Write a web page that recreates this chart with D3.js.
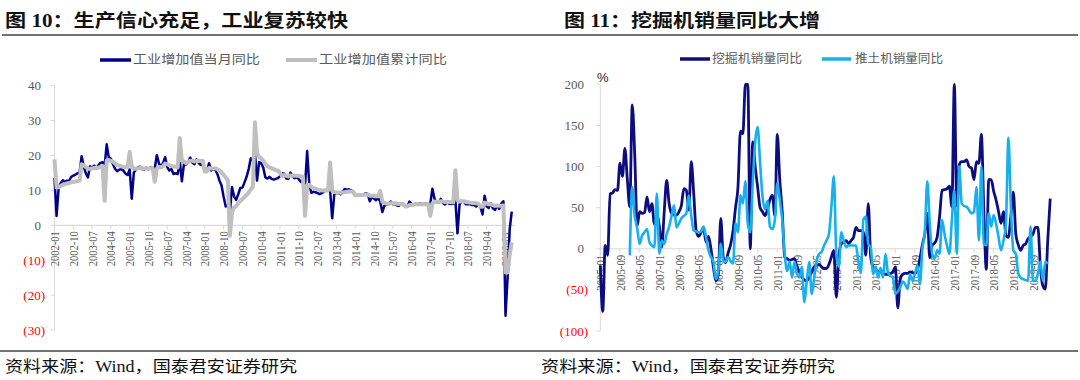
<!DOCTYPE html>
<html><head><meta charset="utf-8">
<script src="https://cdn.jsdelivr.net/npm/d3@7"></script>
<style>body{margin:0;background:#fff}svg{display:block}</style>
</head><body>
<svg id="c" width="1080" height="380"></svg>
<script>
// ---------- Left chart data: 工业增加值 (2002-01 .. 2020-04) ----------
const iavStart = [2002, 1];
const iavMonthly = [
 13.6,2.7,10.9,12.1,12.9,12.4,12.8,12.7,13.9,14.2,14.5,14.9,
 15.0,19.8,16.9,14.9,13.7,16.9,16.5,17.1,16.3,17.2,17.9,18.1,
 17.0,23.2,19.4,19.1,17.5,16.2,15.5,15.9,16.1,15.7,14.8,14.4,
 16.0,7.6,15.1,16.0,16.6,16.8,16.1,16.0,16.5,16.1,16.6,16.5,
 16.2,20.1,17.8,16.6,17.9,19.5,16.7,15.7,16.1,14.7,14.9,14.7,
 18.5,12.6,17.6,17.4,18.1,19.4,18.0,17.5,18.9,17.9,17.3,17.4,
 15.4,15.4,17.8,15.7,16.0,16.0,14.7,12.8,11.4,8.2,5.4,5.7,
 3.8,11.0,8.3,7.3,8.9,10.7,10.8,12.3,13.9,16.1,19.2,18.5,
 20.7,12.8,18.1,17.8,16.5,13.7,13.4,13.9,13.3,13.1,13.3,13.5,
 14.1,14.9,14.8,13.4,13.3,15.1,14.0,13.5,13.8,13.2,12.4,12.8,
 11.4,21.3,11.9,9.3,9.6,9.5,9.2,8.9,9.2,9.6,10.1,10.3,
 9.9,2.0,8.9,9.3,9.2,8.9,9.7,10.4,10.2,10.3,10.0,9.7,
 8.6,8.6,8.8,8.7,8.8,9.2,9.0,6.9,8.0,7.7,7.2,7.9,
 6.8,3.8,5.6,5.9,6.1,6.8,6.0,6.1,5.7,5.6,6.2,5.9,
 5.4,5.4,6.8,6.0,6.0,6.2,6.0,6.3,6.1,6.1,6.2,6.0,
 6.3,10.5,7.6,6.5,6.5,7.6,6.4,6.0,6.6,6.2,6.1,6.2,
 7.2,-2.3,6.0,7.0,6.8,6.0,6.0,6.1,5.8,5.9,5.4,5.7,
 5.3,3.1,8.5,5.4,5.0,6.3,4.8,4.4,5.8,4.7,6.2,6.9,
 -25.9,-15.0,-1.1,3.9
];
const iavCumulative = [
 18.9,10.9,10.9,11.3,11.6,11.8,12.0,12.1,12.3,12.4,12.6,12.6,
 12.8,17.5,17.2,16.7,16.2,16.2,16.3,16.4,16.5,16.5,16.8,17.0,
 7.0,18.5,18.7,18.5,18.2,17.7,17.3,17.1,16.9,16.7,16.6,16.7,
 21.0,16.9,16.2,16.2,16.3,16.4,16.3,16.3,16.3,16.3,16.3,16.4,
 12.5,16.2,16.7,16.6,16.9,17.7,17.5,17.2,17.0,16.9,16.8,16.6,
 25.0,18.5,18.3,17.8,18.1,18.5,18.5,18.3,18.4,18.5,18.4,18.5,
 15.4,15.4,16.4,16.3,16.3,16.3,16.1,15.7,15.2,14.4,13.7,12.9,
 -3.0,3.8,5.1,5.5,6.3,7.0,7.5,8.1,8.7,9.4,10.3,11.0,
 29.5,20.7,19.6,19.1,18.5,17.6,17.0,16.6,16.3,16.1,15.8,15.7,
 15.0,14.1,14.4,14.2,14.0,14.3,14.2,14.2,14.2,14.1,14.0,13.9,
 2.7,11.4,11.6,11.0,10.7,10.5,10.3,10.1,10.0,10.0,10.0,10.0,
 18.0,9.9,9.5,9.4,9.4,9.3,9.4,9.5,9.6,9.7,9.7,9.7,
 8.6,8.6,8.7,8.7,8.7,8.8,8.8,8.5,8.5,8.4,8.3,8.3,
 9.8,6.8,6.4,6.2,6.2,6.3,6.3,6.3,6.2,6.1,6.1,6.1,
 5.4,5.4,5.8,5.8,5.9,6.0,6.0,6.0,6.0,6.0,6.0,6.0,
 2.7,6.3,6.8,6.7,6.7,6.9,6.8,6.7,6.7,6.7,6.6,6.6,
 15.8,7.2,6.8,6.9,6.9,6.7,6.6,6.5,6.4,6.4,6.3,6.2,
 5.3,5.3,6.5,6.2,6.0,6.0,5.8,5.6,5.6,5.6,5.6,5.7,
 -13.5,-13.5,-8.4,-4.9
];
const iavTicks = ["2002-01","2002-10","2003-07","2004-04","2005-01","2005-10","2006-07","2007-04",
 "2008-01","2008-10","2009-07","2010-04","2011-01","2011-10","2012-07","2013-04","2014-01","2014-10",
 "2015-07","2016-04","2017-01","2017-10","2018-07","2019-04","2020-01"];
const iavYTicks = [40,30,20,10,0,-10,-20,-30];

// ---------- Right chart data: 挖掘机 / 推土机 销量同比 (2005-01 .. 2020-04) ----------
const excStart = [2005, 1];
const excavatorYoY = [
 -20,-76,4,-8,67,68,72,71,104,88,122,84,
 51,175,115,28,45,43,44,63,45,55,30,41,
 28,2,45,83,55,43,41,41,45,53,73,71,
 47,106,67,22,15,20,26,8,15,0,-22,-39,
 -31,37,-10,-17,-5,5,22,50,75,143,140,200,
 200,0,130,100,75,50,45,40,48,60,65,40,
 139,84,45,-10,-12,-14,-13,-12,-22,-28,-34,-38,
 -39,-35,-28,-22,-20,-19,-22,-24,-24,-19,-10,-2,
 -59,-10,6,8,10,6,10,14,26,22,22,20,
 -8,55,-10,-23,-26,-28,-29,-30,-31,-31,-30,-28,
 -22,-72,-37,-31,-30,-30,-28,-29,-30,-25,-12,5,
 18,43,-11,4,7,14,39,71,72,73,76,51,
 200,52,102,106,106,108,100,98,84,106,104,139,
 47,-25,84,84,70,59,45,31,45,16,14,40,
 69,18,5,-2,4,6,12,15,18,26,26,-22,
 -45,-49,10,61
];
const bulldozerYoY = [
 null,null,null,null,null,null,null,null,null,null,null,null,
 -8,75,40,25,6,16,20,24,8,4,2,67,
 -6,10,6,18,27,40,53,26,31,37,40,43,
 65,40,22,21,20,21,27,14,-2,-10,-16,-37,
 -27,6,-14,-16,-10,-15,-18,31,20,65,55,82,
 30,20,80,130,148,104,63,48,58,27,24,35,
 80,60,35,-6,-27,-16,-35,-16,-30,-35,-22,-65,
 -39,-16,-55,-35,-15,-6,-4,4,10,18,51,88,
 -6,-22,20,10,2,4,4,4,4,-16,-29,35,
 39,6,2,-31,-22,-35,-23,-35,-6,-29,-33,-35,
 -55,-52,-47,-40,-43,-49,-31,-39,-30,-20,-43,0,
 20,82,31,-6,-12,-2,-6,35,18,4,-6,35,
 71,-6,100,55,52,51,47,43,45,75,10,100,
 6,4,43,27,41,30,14,-2,10,31,135,51,
 -2,-6,-30,-35,-37,-38,-39,27,-39,-39,-30,-16,
 -39,-16,-18,null
];
const excTicks = ["2005-01","2005-09","2006-05","2007-01","2007-09","2008-05","2009-01","2009-09",
 "2010-05","2011-01","2011-09","2012-05","2013-01","2013-09","2014-05","2015-01","2015-09",
 "2016-05","2017-01","2017-09","2018-05","2019-01","2019-09"];
const excYTicks = [200,150,100,50,0,-50,-100];

// ---------- helpers ----------
function monthLabels(start, n){
  const out=[]; let y=start[0], m=start[1];
  for(let k=0;k<n;k++){ out.push(y+"-"+String(m).padStart(2,"0")); m++; if(m>12){m=1;y++;} }
  return out;
}
const fmtY = v => v<0 ? "("+Math.abs(v)+")" : String(v);
const SERIF = "'Liberation Serif','Times New Roman',serif";
const CJK = "'Liberation Serif','Noto Sans CJK SC',serif";
const svg = d3.select("#c");

// ---------- headers & footers ----------
svg.append("text").attr("x",5).attr("y",27).attr("font-family",CJK).attr("font-weight","bold")
  .attr("font-size",18).attr("fill","#111").attr("textLength",343).attr("lengthAdjust","spacingAndGlyphs")
  .text("图 10：生产信心充足，工业复苏较快");
svg.append("text").attr("x",564).attr("y",27).attr("font-family",CJK).attr("font-weight","bold")
  .attr("font-size",18).attr("fill","#111").attr("textLength",256).attr("lengthAdjust","spacingAndGlyphs")
  .text("图 11：挖掘机销量同比大增");
svg.append("line").attr("x1",2).attr("x2",1078).attr("y1",35).attr("y2",35).attr("stroke","#444").attr("stroke-width",1.5);
svg.append("line").attr("x1",0).attr("x2",1078).attr("y1",351).attr("y2",351).attr("stroke","#444").attr("stroke-width",1.5);
[[5,292],[541,294]].forEach(([x,w])=>{
  svg.append("text").attr("x",x).attr("y",372).attr("font-family",CJK).attr("font-size",16)
    .attr("fill","#111").attr("textLength",w).attr("lengthAdjust","spacingAndGlyphs")
    .text("资料来源：Wind，国泰君安证券研究");
});

// ---------- generic chart ----------
function drawChart(o){
  const g = svg.append("g");
  const cats = monthLabels(o.start, o.series[0].values.length);
  const x = d3.scaleLinear().domain([0, cats.indexOf(o.xTicks[o.xTicks.length-1])]).range(o.xRange);
  const y = d3.scaleLinear().domain(o.yDomain).range(o.yRange);
  const x0 = o.xRange[0], xEnd = x(cats.length-1)+3;
  g.append("line").attr("x1",x0).attr("x2",x0).attr("y1",y(o.yDomain[1])).attr("y2",y(o.yDomain[0]))
    .attr("stroke","#D9D9D9");
  o.yTicks.forEach(v=>{
    g.append("line").attr("x1",x0-4).attr("x2",x0).attr("y1",y(v)).attr("y2",y(v)).attr("stroke","#D9D9D9");
    g.append("text").attr("x", v<0 ? o.yLabelX+4 : o.yLabelX).attr("y",y(v)).attr("dy","0.35em")
      .attr("text-anchor","end").attr("font-family",SERIF).attr("font-size",13)
      .attr("fill", v<0 ? "#FF0000" : "#595959").text(fmtY(v));
  });
  g.append("line").attr("x1",x0).attr("x2",xEnd).attr("y1",y(0)).attr("y2",y(0)).attr("stroke","#D9D9D9").attr("stroke-width",1.2);
  o.xTicks.forEach(t=>{
    const xx = x(cats.indexOf(t));
    g.append("line").attr("x1",xx).attr("x2",xx).attr("y1",y(0)).attr("y2",y(0)+4).attr("stroke","#D9D9D9");
    g.append("text").attr("transform",`translate(${xx},${y(0)+6}) rotate(-90)`).attr("dy","0.35em")
      .attr("text-anchor","end").attr("font-family",SERIF).attr("font-size",13).attr("fill","#595959")
      .attr("textLength",o.tickLen).attr("lengthAdjust","spacingAndGlyphs").text(t);
  });
  o.series.forEach(s=>{
    const line = d3.line().defined(d=>d!=null).x((d,i)=>x(i)).y(d=>y(d)).curve(o.curve);
    g.append("path").datum(s.values).attr("fill","none").attr("stroke",s.color)
      .attr("stroke-width",s.width).attr("stroke-linejoin","round").attr("d",line);
  });
  o.legend.forEach(l=>{
    g.append("line").attr("x1",l.x1).attr("x2",l.x2).attr("y1",l.y).attr("y2",l.y)
      .attr("stroke",l.color).attr("stroke-width",l.w);
    g.append("text").attr("x",l.tx).attr("y",l.y).attr("dy","0.36em").attr("font-family","'Noto Sans CJK SC',sans-serif")
      .attr("font-size",12).attr("fill","#595959").attr("textLength",l.tw).attr("lengthAdjust","spacingAndGlyphs").text(l.text);
  });
  return {x,y,g};
}

drawChart({
  start: iavStart,
  series: [
    {values: iavMonthly, color:"#00008B", width:2.5},
    {values: iavCumulative, color:"#BFBFBF", width:4}
  ],
  xTicks: iavTicks, xRange:[54.5,505.5], yDomain:[-30,40], yRange:[330,85.7], yTicks: iavYTicks,
  yLabelX: 41, tickLen: 35, curve: d3.curveLinear,
  legend:[
    {x1:100,x2:131,y:60,color:"#00008B",w:3.5,tx:133,tw:127,text:"工业增加值当月同比"},
    {x1:286,x2:317,y:60,color:"#BFBFBF",w:4,tx:319,tw:128,text:"工业增加值累计同比"}
  ]
});

drawChart({
  start: excStart,
  series: [
    {values: excavatorYoY, color:"#0D0D80", width:2.8},
    {values: bulldozerYoY, color:"#16B0EE", width:2.6}
  ],
  xTicks: excTicks, xRange:[600.3,1033], yDomain:[-100,200], yRange:[331,84.3], yTicks: excYTicks,
  yLabelX: 584, tickLen: 36, curve: d3.curveMonotoneX,
  legend:[
    {x1:680,x2:710,y:59,color:"#0D0D80",w:3.5,tx:712,tw:90,text:"挖掘机销量同比"},
    {x1:822,x2:851,y:59,color:"#16B0EE",w:3.5,tx:855,tw:88,text:"推土机销量同比"}
  ]
});
svg.append("text").attr("x",597).attr("y",82).attr("font-family","'Liberation Sans',sans-serif")
  .attr("font-size",13).attr("fill","#222").text("%");
</script>
</body></html>
